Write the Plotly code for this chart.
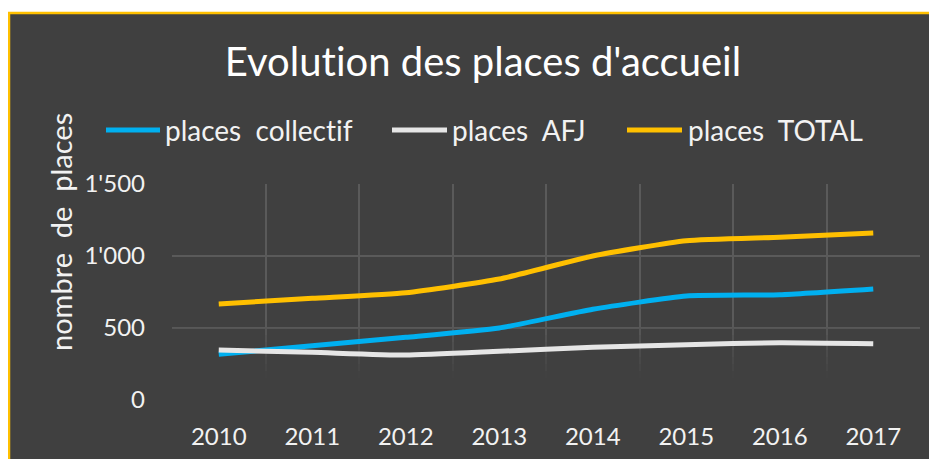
import plotly.graph_objects as go

years = ["2010", "2011", "2012", "2013", "2014", "2015", "2016", "2017"]
places_collectif = [317, 377, 435, 500, 630, 722, 731, 771]
places_afj = [347, 331, 312, 338, 366, 384, 398, 391]
places_total = [667, 706, 745, 840, 1000, 1106, 1130, 1160]
y_tickvals = [0, 500, 1000, 1500]
y_ticktext = ["0", "500", "1'000", "1'500"]
series_names = ["places\u00a0\u00a0collect\u200cif", "places\u00a0\u00a0AFJ", "places\u00a0\u00a0TOTAL"]
series_colors = ["#00B0F0", "#E6E6E6", "#FFC000"]
title_text = "Evolut\u200cion des places d'accueil"
ytitle_text = "nombre\u00a0\u00a0de\u00a0\u00a0places"

OFF = 8  # default page body margin
W, H = 937 - OFF, 459 - OFF
# reference pixel geometry of the plot area
REF_L, REF_R, REF_T, REF_B = 172, 920, 184, 400
ML, MT = REF_L - OFF, REF_T - OFF
MR = W - (REF_R - OFF)
MB = H - (REF_B - OFF)
PW, PH = W - ML - MR, H - MT - MB
BG = "#404040"
FONT = "Lato"
TXT = "#F2F2F2"


def px_x(p):
    return (p - OFF - ML) / PW


def px_y(p):
    return (H - MB - (p - OFF)) / PH


fig = go.Figure()

# fading of the gridlines toward the bottom (Excel gradient plot fill)
step = 50
top, bottom = 550, 150
v = bottom
while v < top:
    op = 1 - (v + step / 2 - bottom) / (top - bottom)
    fig.add_trace(go.Bar(x=years, y=[step] * len(years), base=[v] * len(years), width=1,
                         marker=dict(color=BG, opacity=max(0.0, min(1.0, op)), line=dict(width=0)),
                         hoverinfo="skip", showlegend=False))
    v += step
fig.add_trace(go.Bar(x=years, y=[bottom + 10] * len(years), base=[-10] * len(years), width=1,
                     marker=dict(color=BG, line=dict(width=0)),
                     hoverinfo="skip", showlegend=False))

for name, vals, col in zip(series_names, [places_collectif, places_afj, places_total], series_colors):
    fig.add_trace(go.Scatter(
        x=years, y=vals, name=name, mode="lines", showlegend=False,
        line=dict(color=col, width=5, shape="spline", smoothing=0.5),
    ))

shapes = [
    dict(type="rect", xref="paper", yref="paper",
         x0=px_x(9), x1=px_x(960), y0=px_y(480), y1=px_y(13),
         fillcolor=BG, line=dict(color="#FFC000", width=2.5), layer="below"),
]
annotations = []
# legend drawn manually (Excel-style long keys)
leg_keys = [(106, 160, 163), (392, 447, 450), (627, 682, 686)]
for (k0, k1, tx), name, col in zip(leg_keys, series_names, series_colors):
    shapes.append(dict(type="line", xref="paper", yref="paper",
                       x0=px_x(k0), x1=px_x(k1), y0=px_y(130), y1=px_y(130),
                       line=dict(color=col, width=5), layer="above"))
    annotations.append(dict(text=name, xref="paper", yref="paper", x=px_x(tx), y=px_y(130),
                            xanchor="left", yanchor="middle", showarrow=False,
                            font=dict(family=FONT, size=28, color=TXT)))

annotations.append(dict(text=ytitle_text, xref="paper", yref="paper",
                        x=px_x(60), y=px_y(232), textangle=-90, showarrow=False,
                        xanchor="center", yanchor="middle",
                        font=dict(family=FONT, size=29, color=TXT)))

fig.update_layout(
    width=W, height=H,
    margin=dict(l=ML, r=MR, t=MT, b=MB, autoexpand=False),
    paper_bgcolor="white", plot_bgcolor=BG,
    font=dict(family=FONT, color=TXT, size=24),
    title=dict(text=title_text, x=(483 - OFF) / W, xanchor="center",
               y=1 - (62 - OFF) / H, yanchor="middle",
               font=dict(family=FONT, size=40, color="white")),
    showlegend=False,
    barmode="overlay", bargap=0,
    shapes=shapes,
    annotations=annotations,
    xaxis=dict(type="category", range=[-0.5, 7.5], tickson="boundaries",
               showgrid=True, gridcolor="#5A5A5A", gridwidth=1.5,
               showline=False, zeroline=False, ticks="", ticklabelstandoff=20,
               tickfont=dict(family=FONT, size=24, color=TXT)),
    yaxis=dict(range=[0, 1500], tickvals=y_tickvals, ticktext=y_ticktext,
               showgrid=True, gridcolor="#5A5A5A", gridwidth=1.5,
               zeroline=False, showline=False, ticks="", ticklabelstandoff=26,
               tickfont=dict(family=FONT, size=24, color=TXT)),
)

fig.write_html("out.html")
